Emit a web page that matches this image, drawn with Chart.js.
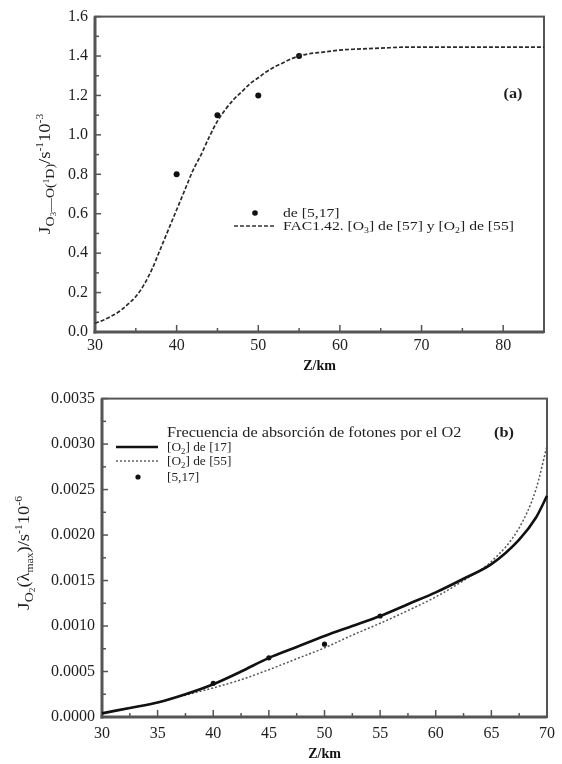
<!DOCTYPE html>
<html><head><meta charset="utf-8">
<script src="https://cdn.jsdelivr.net/npm/chart.js@4.4.0/dist/chart.umd.min.js"></script>
<style>
body{margin:0;background:#fff;width:562px;height:764px;position:relative;overflow:hidden}
canvas{position:absolute;left:0}
#ca{top:0} #cb{top:382px}
</style></head><body>
<canvas id="ca" width="562" height="382"></canvas>
<canvas id="cb" width="562" height="382"></canvas>
<script>
// (a) J(O3 -> O(1D)) vs altitude
const zA   = [30,31,32,33,34,35,36,37,38,39,40,41,42,43,44,45,46,47,48,49,50,51,52,53,54,55,56,58,60,62,65,68,70,75,80,85];
const facA = [0.045,0.06,0.08,0.105,0.14,0.18,0.24,0.32,0.42,0.52,0.62,0.72,0.82,0.9,0.99,1.07,1.13,1.18,1.22,1.26,1.29,1.32,1.345,1.365,1.385,1.4,1.41,1.42,1.43,1.435,1.44,1.445,1.445,1.445,1.445,1.445];
const obsZA = [40,45,50,55];
const obsA  = [0.8,1.1,1.2,1.4];
const xTicksA = [30,40,50,60,70,80];
const yTicksA = [0,0.2,0.4,0.6,0.8,1.0,1.2,1.4,1.6];

// (b) O2 photon absorption frequency
const zB    = [30,32.5,35,37.5,40,42.5,45,47.5,50,52.5,55,57.5,60,62.5,65,67.5,69,70];
const o2_17 = [0.00004,0.0001,0.00016,0.00025,0.00036,0.0005,0.00065,0.00077,0.00089,0.001,0.00111,0.00124,0.00137,0.00152,0.00168,0.00195,0.00219,0.00243];
const o2_55 = [0.00004,0.0001,0.00016,0.00024,0.00032,0.00041,0.00052,0.00064,0.00076,0.0009,0.00103,0.00117,0.00132,0.0015,0.00171,0.00208,0.0025,0.00298];
const obsZB = [40,45,50,55];
const obsB  = [0.00037,0.00065,0.0008,0.00111];
const xTicksB = [30,35,40,45,50,55,60,65,70];
const yTicksB = [0,0.0005,0.001,0.0015,0.002,0.0025,0.003,0.0035];

const SERIF = '"Liberation Serif","DejaVu Serif",serif';
const INK = '#1e1e1e';
const WIDE = 1.16; // glyphs in this figure run a little wide

const pts = (xs, ys) => xs.map((x,i)=>({x, y:ys[i]}));

// text with sub/superscripts: [text, size, dy, weight]
const rich = (ctx, segs, x, y, align) => {
  let w = 0;
  segs.forEach(s=>{ ctx.font = `${s[3]||'normal'} ${s[1]}px ${SERIF}`; w += ctx.measureText(s[0]).width; });
  w *= WIDE;
  ctx.save();
  ctx.translate(align==='center' ? x - w/2 : x, y);
  ctx.scale(WIDE, 1);
  let cx = 0;
  segs.forEach(s=>{
    ctx.font = `${s[3]||'normal'} ${s[1]}px ${SERIF}`;
    ctx.fillText(s[0], cx, s[2]||0);
    cx += ctx.measureText(s[0]).width;
  });
  ctx.restore();
};

const vLabel = (ctx, segs, x, y) => {
  ctx.save(); ctx.translate(x, y); ctx.rotate(-Math.PI/2);
  rich(ctx, segs, 0, 5, 'center'); ctx.restore();
};

const seg = (ctx, x1,y1,x2,y2) => { ctx.beginPath(); ctx.moveTo(x1,y1); ctx.lineTo(x2,y2); ctx.stroke(); };

// boxed frame with inward major/minor ticks
const frame = {
  id:'frame',
  beforeDatasetsDraw(chart, args, o){
    const {ctx, chartArea:a, scales:{x,y}} = chart;
    ctx.save();
    ctx.strokeStyle = '#555'; ctx.lineWidth = 1.5;
    o.xTicks.forEach((v,i)=>{
      const p = x.getPixelForValue(v); seg(ctx, p, a.bottom, p, a.bottom-7);
      if (i < o.xTicks.length-1){ const m = x.getPixelForValue((v+o.xTicks[i+1])/2); seg(ctx, m, a.bottom, m, a.bottom-4); }
    });
    o.yTicks.forEach((v,i)=>{
      const p = y.getPixelForValue(v); seg(ctx, a.left, p, a.left+6, p);
      if (i < o.yTicks.length-1){ const m = y.getPixelForValue((v+o.yTicks[i+1])/2); seg(ctx, a.left, m, a.left+4, m); }
    });
    ctx.lineWidth = 2;
    ctx.strokeRect(a.left, a.top, a.width, a.height);
    ctx.lineWidth = 3;
    seg(ctx, a.left, a.top, a.left, a.bottom+1.5); seg(ctx, a.left-1.5, a.bottom, a.right, a.bottom);
    ctx.restore();
  }
};

const makeOpts = (xTicks, yTicks, xMax, yMax, fmt, box) => ({
  responsive:false, animation:false, devicePixelRatio:1,
  layout:{padding:{top:box.top, right:box.right, left:0, bottom:0}},
  plugins:{legend:{display:false}, tooltip:{enabled:false}, frame:{xTicks, yTicks}},
  scales:{
    x:{type:'linear', min:xTicks[0], max:xMax,
       afterBuildTicks:s=>{ s.ticks = xTicks.map(v=>({value:v})); },
       afterFit:s=>{ s.height = box.bottom; },
       grid:{display:false, drawTicks:false}, border:{display:false},
       ticks:{padding:box.xPad, color:INK, font:{family:SERIF, size:16}, callback:v=>v},
       title:{display:true, text:'Z/km', color:'#111', font:{family:SERIF, size:14, weight:'bold'}, padding:{top:0, bottom:box.tPad}}},
    y:{min:0, max:yMax,
       afterBuildTicks:s=>{ s.ticks = yTicks.map(v=>({value:v})); },
       afterFit:s=>{ s.width = box.left; },
       grid:{display:false, drawTicks:false}, border:{display:false},
       ticks:{padding:7, color:INK, font:{family:SERIF, size:16}, callback:fmt}}
  }
});

const chartA = new Chart(document.getElementById('ca'), {
  type:'scatter',
  data:{datasets:[
    {data:pts(zA, facA), showLine:true, borderColor:'#2a2a2a', borderWidth:1.7, borderDash:[4,2], pointRadius:0, cubicInterpolationMode:'monotone', clip:4},
    {data:pts(obsZA, obsA), pointRadius:3, backgroundColor:'#111', borderWidth:0}
  ]},
  options:makeOpts(xTicksA, yTicksA, 85, 1.6, v=>v.toFixed(1), {top:14, right:18, left:95, bottom:50, xPad:4, tPad:7}),
  plugins:[frame, {
    id:'notesA',
    afterDraw(c){
      const ctx = c.ctx; ctx.save(); ctx.fillStyle = INK; ctx.textBaseline = 'alphabetic';
      vLabel(ctx, [['J',17],['O',12,4],['3',8,6],['\u2013\u2013O(',12,4],['1',8,-1],['D)',12,4],['/s',16],['-1',10,-7],['10',16],['-3',10,-7]], 45, 174);
      rich(ctx, [['(a)',14,0,'bold']], 513, 98, 'center');
      // legend
      ctx.fillStyle = '#111'; ctx.beginPath(); ctx.arc(255, 213, 2.8, 0, Math.PI*2); ctx.fill();
      ctx.strokeStyle = '#333'; ctx.lineWidth = 1.4; ctx.setLineDash([4,2]); seg(ctx, 234, 226, 276, 226); ctx.setLineDash([]);
      ctx.fillStyle = INK;
      rich(ctx, [['de [5,17]',13.5]], 283, 217);
      rich(ctx, [['FAC1.42. [O',13.5],['3',8.5,3],['] de [57] y [O',13.5],['2',8.5,3],['] de [55]',13.5]], 283, 230);
      ctx.restore();
    }
  }]
});

const chartB = new Chart(document.getElementById('cb'), {
  type:'scatter',
  data:{datasets:[
    {data:pts(zB, o2_17), showLine:true, borderColor:'#111', borderWidth:2.6, pointRadius:0, cubicInterpolationMode:'monotone', clip:4},
    {data:pts(zB, o2_55), showLine:true, borderColor:'#555', borderWidth:1.5, borderDash:[2,2], pointRadius:0, cubicInterpolationMode:'monotone', clip:4},
    {data:pts(obsZB, obsB), pointRadius:2.6, backgroundColor:'#111', borderWidth:0}
  ]},
  options:makeOpts(xTicksB, yTicksB, 70, 0.0035, v=>v.toFixed(4), {top:4, right:13, left:102, bottom:47, xPad:7, tPad:1}),
  plugins:[frame, {
    id:'notesB',
    afterDraw(c){
      const ctx = c.ctx; ctx.save(); ctx.fillStyle = INK; ctx.textBaseline = 'alphabetic';
      vLabel(ctx, [['J',17],['O',12,4],['2',8,6],['(\u03bb',16],['max',10,4],[')/s',16],['-1',10,-7],['10',16],['-6',10,-7]], 24, 171);
      rich(ctx, [['Frecuencia de absorción de fotones por el O2',14]], 167, 55);
      rich(ctx, [['(b)',14,0,'bold']], 504, 55, 'center');
      // legend
      ctx.strokeStyle = '#111'; ctx.lineWidth = 2.6; seg(ctx, 116, 65, 158, 65);
      ctx.strokeStyle = '#555'; ctx.lineWidth = 1.4; ctx.setLineDash([2,2]); seg(ctx, 116, 79, 158, 79); ctx.setLineDash([]);
      ctx.fillStyle = '#111'; ctx.beginPath(); ctx.arc(138, 95, 2.6, 0, Math.PI*2); ctx.fill();
      ctx.fillStyle = INK;
      rich(ctx, [['[O',11.5],['2',7.5,3],['] de [17]',11.5]], 167, 69);
      rich(ctx, [['[O',11.5],['2',7.5,3],['] de [55]',11.5]], 167, 83);
      rich(ctx, [['[5,17]',11.5]], 167, 99);
      ctx.restore();
    }
  }]
});
</script>
</body></html>
